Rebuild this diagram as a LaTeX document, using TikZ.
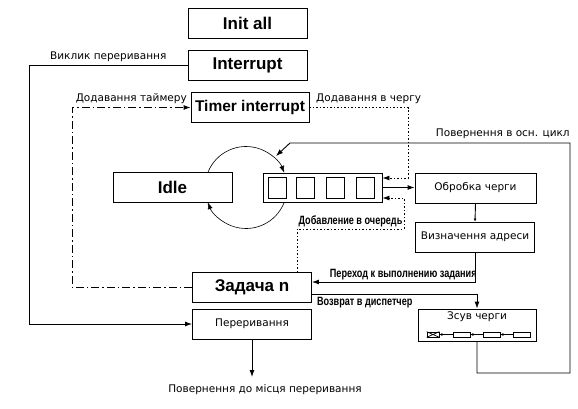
\documentclass[tikz,border=0pt]{standalone}
\usepackage{fontspec}
\setmainfont{DejaVu Sans}
\newfontfamily\titlefont{Liberation Sans}
\newfontfamily\narrowfont[FakeStretch=0.76]{Liberation Sans}
\usetikzlibrary{arrows.meta,calc}

\begin{document}
\begin{tikzpicture}[x=1pt,y=1pt,
  font=\fontsize{10.5}{12}\selectfont,
  box/.style={draw=black,line width=0.9pt,inner sep=2pt,align=center,
    minimum width=119pt,minimum height=30pt},
  title/.style={box,font=\titlefont\bfseries\fontsize{17}{19}\selectfont},
  cell/.style={draw=black,line width=0.8pt,minimum width=18pt,
    minimum height=21pt,inner sep=0pt},
  mini/.style={draw=black,line width=0.7pt,minimum width=17pt,
    minimum height=5pt,inner sep=0pt},
  flow/.style={-{Latex[length=7pt,width=5pt]},draw=black,line width=0.9pt},
  miniflow/.style={-{Latex[length=3pt,width=3pt]},draw=black,line width=0.7pt},
  loopflow/.style={flow,line width=0.6pt},
  dashdot/.style={flow,dash pattern=on 8pt off 3pt on 1.5pt off 3pt},
  dots/.style={flow,dash pattern=on 1.5pt off 2pt},
  cond/.style={inner sep=1pt},
  boldcond/.style={inner sep=1pt,
    font=\narrowfont\bfseries\fontsize{12}{14}\selectfont}]
\useasboundingbox (0,0) rectangle (578,408);

\node[title] (init) at (247.5,385) {Init all};
\node[title] (intr) at (247.5,343) {Interrupt};
\node[title,minimum width=118pt,
  font=\titlefont\bfseries\fontsize{15.5}{18}\selectfont] (timer) at (250,300.5) {Timer interrupt};
\node[title] (idle) at (172.5,220.5) {Idle};
\node[box,minimum height=29pt] (queue) at (322.5,220.5) {};
\node[cell] (c1) at (277,220.5) {};
\node[cell] (c2) at (305.5,220.5) {};
\node[cell] (c3) at (335.5,220.5) {};
\node[cell] (c4) at (365.5,220.5) {};
\node[box,minimum width=121pt] (obr) at (475.5,220) {Обробка черги};
\node[box] (vyzn) at (475,171) {Визначення адреси};
\node[title] (task) at (252,120.5) {Задача n};
\node[box] (perer) at (252,84) {Переривання};
\node[box,minimum width=118pt,minimum height=32pt] (zsuv) at (477,83) {};
\node (zsuvtext) at (477,91) {Зсув черги};
\node[mini,minimum width=12pt] (m0) at (433,73.5) {};
\node[mini] (m1) at (461.5,73.5) {};
\node[mini] (m2) at (491.5,73.5) {};
\node[mini] (m3) at (521.5,73.5) {};
\draw[line width=0.7pt] (m0.north west)--(m0.south east) (m0.south west)--(m0.north east);
\draw[miniflow] (m1.west)--(m0.east);
\draw[miniflow] (m2.west)--(m1.east);
\draw[miniflow] (m3.west)--(m2.east);

\coordinate (cc) at (246,220.5);
\coordinate (back) at (276,252);
\coordinate (ret) at (252,31);

\draw[flow] (intr.west)--node[cond,above=2pt] (call) {Виклик переривання}(29,343)|-(perer.west);
\draw[dashdot] (task.west)--(72,120.5)--(72,300.5)--
  node[cond,above=2pt] (addtimer) {Додавання таймеру}(timer.west);
\draw[dots] (timer.east)--node[cond,above=2pt,pos=0.6] (addq) {Додавання в чергу}(408,300.5)--
  (408,230)--([yshift=9.5pt]queue.east);
\draw[dots] ([xshift=45pt]task.north)--(297,179)--
  node[boldcond,above=1pt] (addq2) {Добавление в очередь}(404,179)--(404,210)--([yshift=-10.5pt]queue.east);
\draw[flow] (queue.east)--(queue.east-|obr.west);
\draw[flow,-{Latex[length=3pt,width=3pt]}] (obr.south)--(vyzn.north);
\draw[flow] (vyzn.south)|-node[boldcond,above=1pt,pos=0.72] (jump) {Переход к выполнению задания}
  ([yshift=5.5pt]task.east);
\draw[flow] ([yshift=-6.5pt]task.east)-|node[boldcond,below=2pt,pos=0.16] (disp) {Возврат в диспетчер}
  (zsuv.north);
\draw[flow] (zsuv.south)--(477,35)--(570,35)--(570,265)--
  node[cond,above=3pt,pos=0.24] (mainloop) {Повернення в осн. цикл}(290,265)--(back);
\draw[flow] (perer.south)--(ret);
\node[cond] (retlbl) at (265,18) {Повернення до місця переривання};

\draw[loopflow] ($(cc)+(159:41pt)$) arc[start angle=159,end angle=21,radius=41pt];
\draw[loopflow] ($(cc)+(-21:41pt)$) arc[start angle=-21,end angle=-159,radius=41pt];
\end{tikzpicture}
\end{document}
